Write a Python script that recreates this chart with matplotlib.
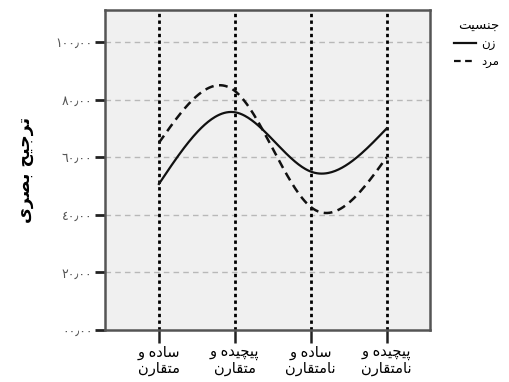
import numpy as np
import matplotlib
matplotlib.use("Agg")
import matplotlib.pyplot as plt
from matplotlib.lines import Line2D

plt.rcParams['font.family'] = ['DejaVu Sans']

# ---- data ----
categories = ["ساده و\nمتقارن", "پیچیده و\nمتقارن", "ساده و\nنامتقارن", "پیچیده و\nنامتقارن"]
female = [50.7, 75.6, 55.0, 70.0]   # زن (solid)
male = [65.0, 83.0, 42.7, 60.0]     # مرد (dashed)
yticks = [0, 20, 40, 60, 80, 100]
yticklabels = ["٠٠٫٠٠", "٢٠٫٠٠", "٤٠٫٠٠", "٦٠٫٠٠", "٨٠٫٠٠", "١٠٠٫٠٠"]
ylabel = "ترجیح بصری"
legend_title = "جنسیت"
series_names = ["زن", "مرد"]

# ---- minimal Arabic/Persian shaping for matplotlib (LTR renderer) ----
FORMS = {
    'ا': ('\uFE8D', '\uFE8E', None, None),
    'ب': ('\uFE8F', '\uFE90', '\uFE91', '\uFE92'),
    'پ': ('\uFB56', '\uFB57', '\uFB58', '\uFB59'),
    'ت': ('\uFE95', '\uFE96', '\uFE97', '\uFE98'),
    'ج': ('\uFE9D', '\uFE9E', '\uFE9F', '\uFEA0'),
    'چ': ('\uFB7A', '\uFB7B', '\uFB7C', '\uFB7D'),
    'ح': ('\uFEA1', '\uFEA2', '\uFEA3', '\uFEA4'),
    'د': ('\uFEA9', '\uFEAA', None, None),
    'ر': ('\uFEAD', '\uFEAE', None, None),
    'ز': ('\uFEAF', '\uFEB0', None, None),
    'س': ('\uFEB1', '\uFEB2', '\uFEB3', '\uFEB4'),
    'ص': ('\uFEB9', '\uFEBA', '\uFEBB', '\uFEBC'),
    'ق': ('\uFED5', '\uFED6', '\uFED7', '\uFED8'),
    'م': ('\uFEE1', '\uFEE2', '\uFEE3', '\uFEE4'),
    'ن': ('\uFEE5', '\uFEE6', '\uFEE7', '\uFEE8'),
    'و': ('\uFEED', '\uFEEE', None, None),
    'ه': ('\uFEE9', '\uFEEA', '\uFEEB', '\uFEEC'),
    'ی': ('\uFBFC', '\uFBFD', '\uFBFE', '\uFBFF'),
}


def shape_line(s):
    out = []
    for i, ch in enumerate(s):
        if ch not in FORMS:
            out.append(ch)
            continue
        prev = s[i - 1] if i > 0 else None
        nxt = s[i + 1] if i + 1 < len(s) else None
        jp = prev in FORMS and FORMS[prev][2] is not None
        jn = nxt in FORMS and FORMS[ch][2] is not None
        iso, fin, ini, med = FORMS[ch]
        if jp and jn:
            out.append(med)
        elif jp:
            out.append(fin)
        elif jn:
            out.append(ini)
        else:
            out.append(iso)
    return ''.join(reversed(out))


def shape(s):
    return '\n'.join(shape_line(l) for l in s.split('\n'))


def natural_spline(y, n=200):
    y = np.asarray(y, float)
    k = len(y)
    A = np.zeros((k, k))
    b = np.zeros(k)
    A[0, 0] = A[-1, -1] = 1
    for i in range(1, k - 1):
        A[i, i - 1], A[i, i], A[i, i + 1] = 1, 4, 1
        b[i] = 6 * (y[i + 1] - 2 * y[i] + y[i - 1])
    M = np.linalg.solve(A, b)
    xs = np.linspace(0, k - 1, n)
    idx = np.clip(np.floor(xs).astype(int), 0, k - 2)
    t = xs - idx
    a = 1 - t
    ys = (a * y[idx] + t * y[idx + 1]
          + ((a ** 3 - a) * M[idx] + (t ** 3 - t) * M[idx + 1]) / 6)
    return xs, ys


fig = plt.figure(figsize=(5.1, 3.82), dpi=100)
ax = fig.add_axes([105 / 510, 1 - 330 / 382, 325 / 510, 320 / 382])
ax.set_facecolor('#f0f0f0')

x = np.arange(len(categories))
ax.set_xlim(-0.71, 3.57)
ax.set_ylim(0, 111.1)

for yv in yticks[1:]:
    ax.axhline(yv, color='#b8b8b8', lw=1.0, dashes=(4, 3), zorder=1)
for xv in x:
    ax.axvline(xv, color='black', lw=2.0, linestyle=(0, (1.2, 1.2)), zorder=2)

xs, ys = natural_spline(female)
ax.plot(xs, ys, color='#111111', lw=1.6, zorder=3)
xs, ys = natural_spline(male)
ax.plot(xs, ys, color='#111111', lw=1.8, dashes=(3.5, 2.2), zorder=3)

for sp in ax.spines.values():
    sp.set_color('#555555')
    sp.set_linewidth(1.8)

ax.set_yticks(yticks)
ax.set_yticklabels(yticklabels, fontsize=9, color='#555555')
ax.set_xticks(x)
ax.set_xticklabels([shape(c) for c in categories], fontsize=10.5,
                   linespacing=1.0)
ax.tick_params(axis='y', length=7, width=2.0, color='#222222', pad=2)
ax.tick_params(axis='x', length=9, width=1.8, color='#222222', pad=2)

fig.text(25 / 510, 1 - 170 / 382, shape(ylabel), rotation=90, fontsize=12.5,
         fontweight='bold', ha='center', va='center')

handles = [Line2D([], [], color='#111111', lw=1.6),
           Line2D([], [], color='#111111', lw=1.6, dashes=(3, 2))]
leg = fig.legend(handles, [shape(n) for n in series_names],
                 title=shape(legend_title), loc='upper left',
                 bbox_to_anchor=(446 / 510, 1 - 12 / 382),
                 frameon=False, fontsize=8.5, title_fontsize=9.5,
                 handlelength=1.8, handletextpad=0.5, labelspacing=0.35,
                 borderpad=0.2)
leg._legend_box.align = 'right'

fig.savefig('out.png', dpi=100)
